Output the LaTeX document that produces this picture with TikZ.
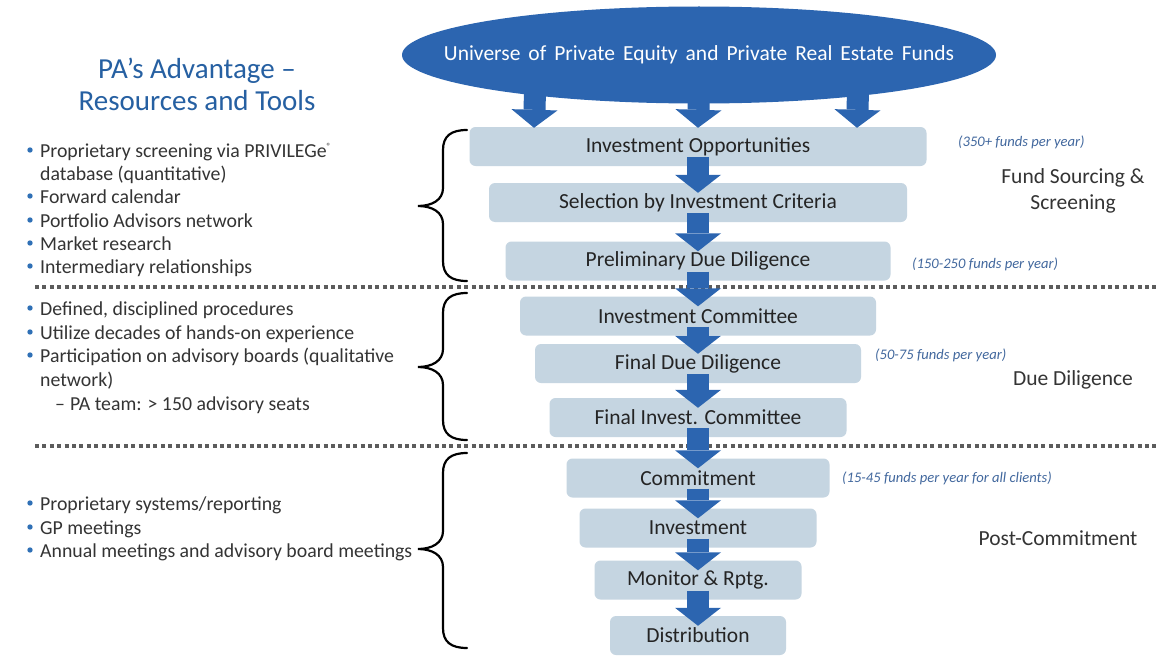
\documentclass[tikz,border=0pt]{standalone}
\usepackage{fontspec}
\setmainfont{Carlito}
\usetikzlibrary{shapes.geometric, arrows.meta, calc}
\definecolor{flowblue}{RGB}{44,101,176}
\definecolor{boxfill}{RGB}{197,213,225}
\definecolor{titleblue}{RGB}{38,96,162}
\definecolor{bulletblue}{RGB}{47,112,182}
\definecolor{noteblue}{RGB}{66,104,158}
\definecolor{textgray}{RGB}{52,52,52}
\definecolor{boxtext}{RGB}{36,36,36}
\definecolor{linegray}{RGB}{92,92,92}
\tikzset{
  stagebox/.style={rectangle, rounded corners=6pt, fill=boxfill, minimum height=39pt,
                   inner sep=0pt, text=boxtext, font=\fontsize{21.5}{24}\selectfont},
  flowarrow/.style={line width=22pt, draw=flowblue,
                    -{Triangle[length=18pt, width=46pt, line width=0pt]}},
  sepline/.style={draw=linegray, line width=3.5pt, dash pattern=on 4pt off 3.4pt},
  curly/.style={draw=black, line width=2.2pt, line cap=round},
  bulletitem/.style={anchor=base west, inner sep=0pt, text=textgray,
                     font=\fontsize{19.8}{23}\selectfont},
  note/.style={anchor=west, inner sep=0pt, text=noteblue,
               font=\fontsize{14.6}{17}\selectfont\itshape},
  phase/.style={align=center, text=textgray, font=\fontsize{21.5}{26}\selectfont},
}

\begin{document}
\begin{tikzpicture}[x=1pt, y=-1pt]
  \path[use as bounding box, fill=white] (0,0) rectangle (1159,661);

  % phase separators
  \draw[sepline] (35,287) -- (1159,287);
  \draw[sepline] (35,446) -- (1159,446);

  % funnel stages
  \foreach \name/\y/\w/\txt in {opp/146.5/457/Investment Opportunities,
      sel/202.5/418/Selection by Investment Criteria,
      pdd/261/385/Preliminary Due Diligence,
      ic/316/356/Investment Committee,
      fdd/363.5/326/Final Due Diligence,
      fic/417.5/297/Final Invest. Committee,
      commit/478/263/Commitment,
      invest/528/237/Investment,
      monitor/580/207/Monitor \& Rptg.,
      distrib/635.5/176/Distribution}{
    \node[stagebox, minimum width=\w pt] (\name) at (698,\y) {\txt};
  }

  % universe
  \node[ellipse, fill=flowblue, minimum width=594pt, minimum height=97pt, inner sep=0pt]
    (universe) at (699,55) {};
  \node[text=white, font=\fontsize{21.5}{24}\selectfont, inner sep=0pt]
    (universe-text) at (universe.center)
    {\spaceskip=8pt\relax Universe of Private Equity and Private Real Estate Funds};
  \foreach \dx in {-164,0,159}
    \draw[flowarrow] ([xshift=\dx pt, yshift=12pt]universe.south)
      -- ([xshift=\dx pt, yshift=-1pt]opp.north);
  \foreach \a/\b in {opp/sel, sel/pdd, pdd/ic, ic/fdd, fdd/fic,
                     fic/commit, commit/invest, invest/monitor, monitor/distrib}
    \draw[flowarrow] ([yshift=9pt]\a.south) -- ([yshift=-10pt]\b.north);

  % braces
  \foreach \t/\m/\b in {130/206/281, 293/367/440, 453/549/648}
    \draw[curly] (467,\t) .. controls (451,\t) and (443,{\t+6}) .. (443,{\t+20})
      -- (443,{\m-18}) .. controls (443,{\m-6}) and (432,\m) .. (418,\m)
      .. controls (432,\m) and (443,{\m+6}) .. (443,{\m+18})
      -- (443,{\b-20}) .. controls (443,{\b-6}) and (451,\b) .. (467,\b);

  % resources and tools
  \node[align=center, text=titleblue, font=\fontsize{29}{32}\selectfont] (title)
    at (197,84) {PA's Advantage --\\Resources and Tools};
  \foreach \y/\txt [count=\i] in {157/{Proprietary screening via PRIVILEGe\textsuperscript{\fontsize{9}{9}\selectfont ®}},
      203/Forward calendar, 227/Portfolio Advisors network, 250/Market research,
      273/Intermediary relationships, 315/{Defined, disciplined procedures},
      339/Utilize decades of hands-on experience,
      362/Participation on advisory boards (qualitative,
      510/{Proprietary systems/reporting}, 534/GP meetings,
      557/Annual meetings and advisory board meetings}{
    \fill[bulletblue] (30,{\y-7}) circle (2.7pt);
    \node[bulletitem] (item\i) at (40,\y) {\txt};
  }
  \node[bulletitem] (itemcont1) at (40,180) {database (quantitative)};
  \node[bulletitem] (itemcont2) at (40,386) {network)};
  \node[bulletitem] (subitem) at (55,410) {--\hspace{5pt}PA team: > 150 advisory seats};

  % volumes
  \node[note] (vol1) at (958,142) {(350+ funds per year)};
  \node[note] (vol2) at (912,264) {(150-250 funds per year)};
  \node[note] (vol3) at (875,355) {(50-75 funds per year)};
  \node[note] (vol4) at (842,478) {(15-45 funds per year for all clients)};

  % phases
  \node[phase] (sourcing) at (1073,191) {Fund Sourcing \&\\Screening};
  \node[phase] (diligence) at (1073,380) {Due Diligence};
  \node[phase] (postcommit) at (1058,538) {Post-Commitment};
\end{tikzpicture}
\end{document}
